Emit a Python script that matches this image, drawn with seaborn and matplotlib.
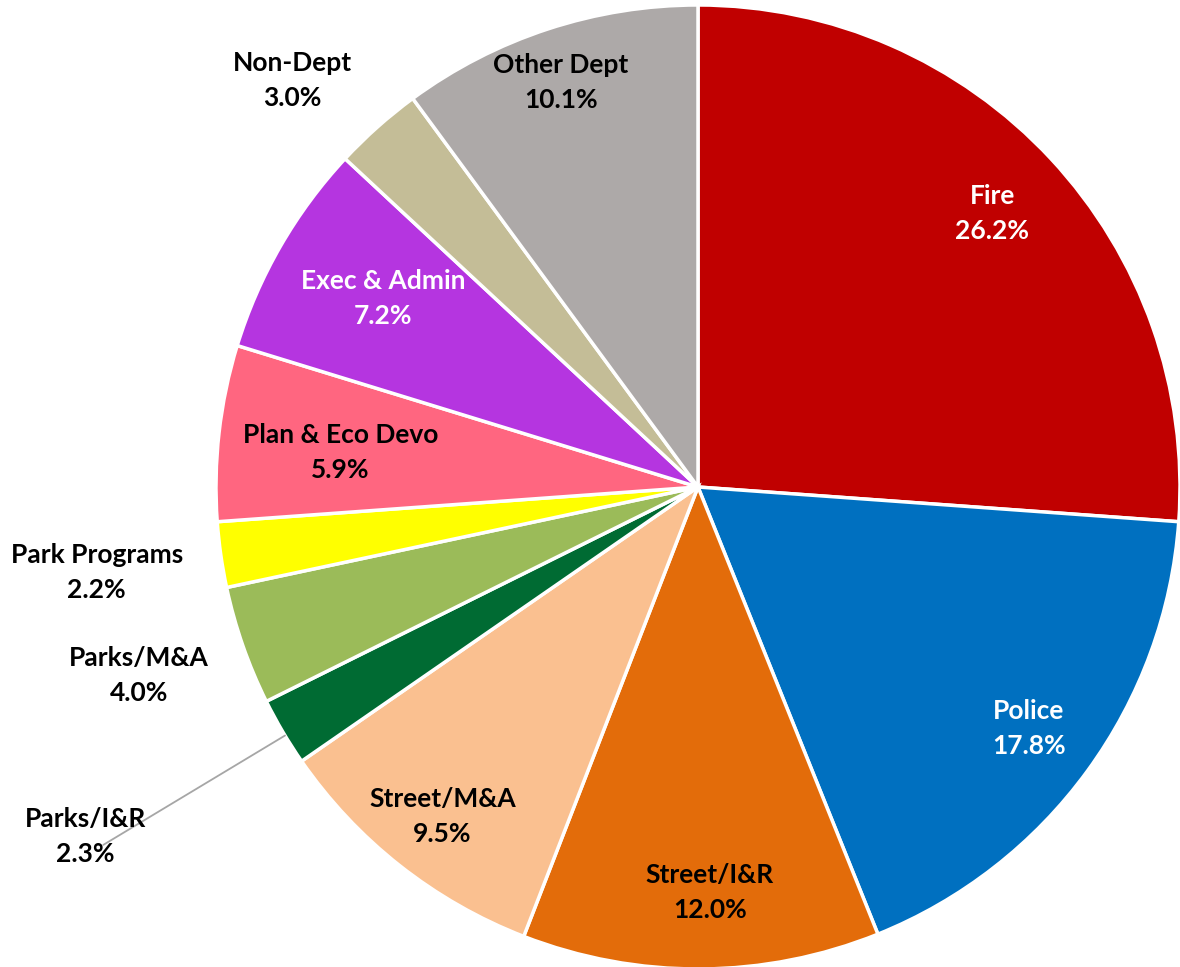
import numpy as np
import matplotlib
matplotlib.use("Agg")
import matplotlib.pyplot as plt
import seaborn as sns

sns.set_theme(style="white")
plt.rcParams['font.family'] = ['Lato', 'DejaVu Sans']

# Budget share by department (percent), clockwise from 12 o'clock
departments = ["Fire", "Police", "Street/I&R", "Street/M&A", "Parks/I&R",
               "Parks/M&A", "Park Programs", "Plan & Eco Devo", "Exec & Admin",
               "Non-Dept", "Other Dept"]
shares = [26.2, 17.8, 12.0, 9.5, 2.3, 4.0, 2.2, 5.9, 7.2, 3.0, 10.1]
colors = ["#C00000", "#0070C0", "#E36C0A", "#FAC090", "#006B33",
          "#9BBB59", "#FFFF00", "#FF6680", "#B535E0", "#C4BD97", "#ADA9A8"]
text_colors = ["white", "white", "black", "black", "black",
               "black", "black", "black", "white", "black", "black"]
# label placement: distance from centre (fraction of radius) and angle nudge (deg)
label_radius = [0.834, 0.849, 0.842, 0.866, 1.463, 1.224, 1.26, 0.745, 0.762, 1.191, 0.886]
label_nudge = [0.0, 0.0, 1.3, 0.5, -0.8, -0.6, 0.0, 0.9, -0.9, 3.3, 0.6]

fig = plt.figure(figsize=(11.8, 9.67), dpi=100)
ax = fig.add_axes([0, 0, 1, 1])

wedges, _ = ax.pie(shares, colors=colors, startangle=90, counterclock=False,
                   radius=1.0,
                   wedgeprops=dict(edgecolor="white", linewidth=2.5))

for w, name, val, tc, r, nd in zip(wedges, departments, shares, text_colors,
                                   label_radius, label_nudge):
    mid_deg = (w.theta1 + w.theta2) / 2
    if name == "Parks/I&R":
        # leader line from the slice edge out to its label
        a = np.deg2rad(mid_deg + 0.5)
        ax.plot([1.0 * np.cos(a), 1.44 * np.cos(a)],
                [1.0 * np.sin(a), 1.44 * np.sin(a)],
                color="#A6A6A6", linewidth=1.3, zorder=1)
    ang = np.deg2rad(mid_deg + nd)
    ax.text(r * np.cos(ang), r * np.sin(ang), f"{name}\n{val:.1f}%",
            ha="center", va="center", color=tc, fontsize=19,
            fontweight="bold", linespacing=1.55, zorder=5)

ax.set_xlim(-698 / 482, (1180 - 698) / 482)
ax.set_ylim(-480 / 482, 487 / 482)
ax.set_aspect("equal")
ax.axis("off")

fig.savefig("out.png", dpi=100, facecolor="white")
